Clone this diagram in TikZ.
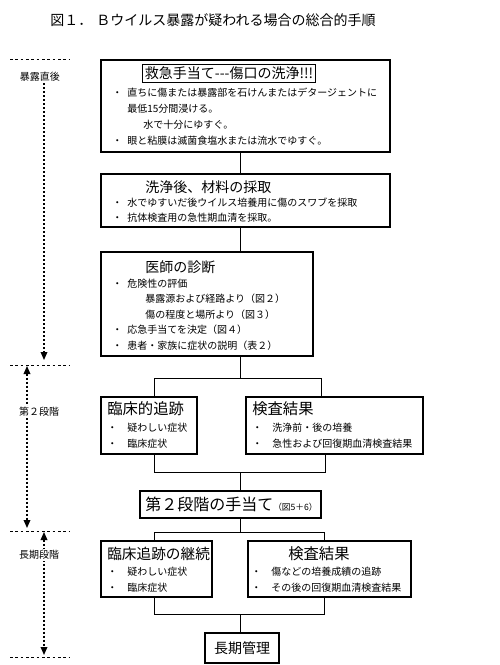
\documentclass[tikz,border=0pt]{standalone}
\usepackage{fontspec}
\setmainfont{Noto Sans CJK JP}
\usetikzlibrary{arrows.meta, positioning, calc}
\newcommand{\bul}[1][11.25pt]{\makebox[#1][l]{・}}

\begin{document}
\begin{tikzpicture}[
    x=0.75pt, y=-0.75pt,
    >={Triangle[length=6pt, width=5pt]},
    stage/.style 2 args={draw, line width=0.8pt, inner sep=0pt,
                 minimum width=#1, minimum height=#2},
    head/.style={font=\fontsize{10.5}{12}\selectfont, inner sep=0pt,
                 anchor=base west},
    bighead/.style={head, font=\fontsize{11.5}{13}\selectfont},
    body/.style={font=\fontsize{7.5}{11.6}\selectfont, align=left,
                 inner sep=0pt, anchor=base west},
    link/.style={line width=0.75pt},
    rule/.style={line width=0.75pt, dash pattern=on 2pt off 2pt},
    span/.style={line width=0.9pt, dash pattern=on 1.5pt off 1.5pt},
    phase/.style={font=\fontsize{7.5}{9}\selectfont, fill=white, inner sep=1pt}
]
    \useasboundingbox (0,0) rectangle (500,665);

    \node[head] (title) at (50,25)
        {図１．\hspace{3pt}Ｂウイルス暴露が疑われる場合の総合的手順};

    % first aid (body nodes sit on the baseline of their last line)
    \node[stage={216.75pt}{69pt}] (first) at (245.5,106) {};
    \node[draw, line width=0.75pt, inner sep=1.5pt,
          font=\fontsize{10.5}{12}\selectfont] (firsthead) at (229,73.5)
        {救急手当て-{}-{}-傷口の洗浄!!!};
    \node[body, font=\fontsize{7.5}{12}\selectfont] (firstbody) at (112,144)
        {\bul 直ちに傷または暴露部を石けんまたはデタージェントに\\
         \hspace*{11.25pt}最低15分間浸ける。\\
         \hspace*{23.25pt}水で十分にゆすぐ。\\
         \bul 眼と粘膜は滅菌食塩水または流水でゆすぐ。};

    % sampling
    \node[stage={216.75pt}{39.75pt}] (sample) at (245.5,200.5) {};
    \node[head] (samplehead) at (145,192) {洗浄後、材料の採取};
    \node[body, font=\fontsize{7.5}{11.25}\selectfont] (samplebody) at (112,221)
        {\bul 水でゆすいだ後ウイルス培養用に傷のスワブを採取\\
         \bul 抗体検査用の急性期血清を採取。};

    % diagnosis
    \node[stage={159pt}{78pt}] (diag) at (207,304) {};
    \node[head] (diaghead) at (145,272) {医師の診断};
    \node[body] (diagbody) at (112,349)
        {\bul 危険性の評価\\
         \hspace*{24.75pt}暴露源および経路より（図２）\\
         \hspace*{24.75pt}傷の程度と場所より（図３）\\
         \bul 応急手当てを決定（図４）\\
         \bul 患者・家族に症状の説明（表２）};

    % second stage
    \node[stage={72pt}{42.75pt}] (clin) at (149,425.5) {};
    \node[bighead] (clinhead) at (107,414) {臨床的追跡};
    \node[body, font=\fontsize{7.5}{12}\selectfont] (clinbody) at (107,447)
        {\bul[15pt]疑わしい症状\\ \bul[15pt]臨床症状};

    \node[stage={132.75pt}{42.75pt}] (lab) at (334.5,425.5) {};
    \node[bighead] (labhead) at (252,414) {検査結果};
    \node[body, font=\fontsize{7.5}{12}\selectfont] (labbody) at (252,447)
        {\bul[15pt]洗浄前・後の培養\\ \bul[15pt]急性および回復期血清検査結果};

    \node[stage={135.75pt}{20.25pt}] (second) at (230.5,504.5) {};
    \node[head, font=\fontsize{12}{14}\selectfont] (secondhead) at (145,510)
        {第２段階の手当て{\fontsize{6.5}{7}\selectfont （図5＋6）}};

    % long term
    \node[stage={83.25pt}{42pt}] (clinb) at (156.5,569) {};
    \node[head, font=\fontsize{11}{13}\selectfont] (clinbhead) at (107,559)
        {臨床追跡の継続};
    \node[body, font=\fontsize{7.5}{12}\selectfont] (clinbbody) at (107,591)
        {\bul[15pt]疑わしい症状\\ \bul[15pt]臨床症状};

    \node[stage={122.25pt}{42pt}] (labb) at (329.5,569) {};
    \node[bighead] (labbhead) at (288,559) {検査結果};
    \node[body, font=\fontsize{7.5}{12}\selectfont] (labbbody) at (251,591)
        {\bul[15pt]傷などの培養成績の追跡\\ \bul[15pt]その後の回復期血清検査結果};

    \node[stage={55.5pt}{22.5pt}, font=\fontsize{10.5}{12}\selectfont]
        (longterm) at (242,648) {長期管理};

    % connectors
    \coordinate (spine) at (240,0);
    \draw[link] (first.south -| spine) -- (sample.north -| spine);
    \draw[link] (sample.south -| spine) -- (diag.north -| spine);

    \coordinate (forkA) at (240,378);
    \coordinate (forkAl) at (154,378);
    \coordinate (forkAr) at (321,378);
    \draw[link] (diag.south -| forkA) -- (forkA);
    \draw[link] (clin.north -| forkAl) -- (forkAl) -- (forkAr) -- (lab.north -| forkAr);

    \coordinate (joinA) at (240,472);
    \coordinate (joinAl) at (154,472);
    \coordinate (joinAr) at (325,472);
    \draw[link] (clin.south -| joinAl) -- (joinAl) -- (joinAr) -- (lab.south -| joinAr);
    \draw[link] (joinA) -- (second.north -| joinA);

    \coordinate (forkB) at (240,532);
    \coordinate (forkBl) at (154,532);
    \coordinate (forkBr) at (324,532);
    \draw[link] (second.south -| forkB) -- (forkB);
    \draw[link] (clinb.north -| forkBl) -- (forkBl) -- (forkBr) -- (labb.north -| forkBr);

    \coordinate (joinB) at (240,614);
    \coordinate (joinBl) at (154,614);
    \coordinate (joinBr) at (324,614);
    \draw[link] (clinb.south -| joinBl) -- (joinBl) -- (joinBr) -- (labb.south -| joinBr);
    \draw[link] (joinB) -- (longterm.north -| joinB);

    % time line on the left
    \foreach \y in {59.5,365,531,657}
        \draw[rule] (10,\y) -- (70,\y);

    \node[phase] (now) at (40,77) {暴露直後};
    \coordinate (nowend) at (44,360);
    \draw[span, ->] (now.south -| nowend) -- (nowend);

    \coordinate (midtop) at (27,366);
    \coordinate (midbot) at (27,528);
    \draw[span, <->] (midtop) -- (midbot);
    \node[phase] (mid) at (39,412) {第２段階};

    \coordinate (latetop) at (44,532);
    \coordinate (latebot) at (44,655);
    \draw[span, <->] (latetop) -- (latebot);
    \node[phase] (late) at (39,555) {長期段階};
\end{tikzpicture}
\end{document}
